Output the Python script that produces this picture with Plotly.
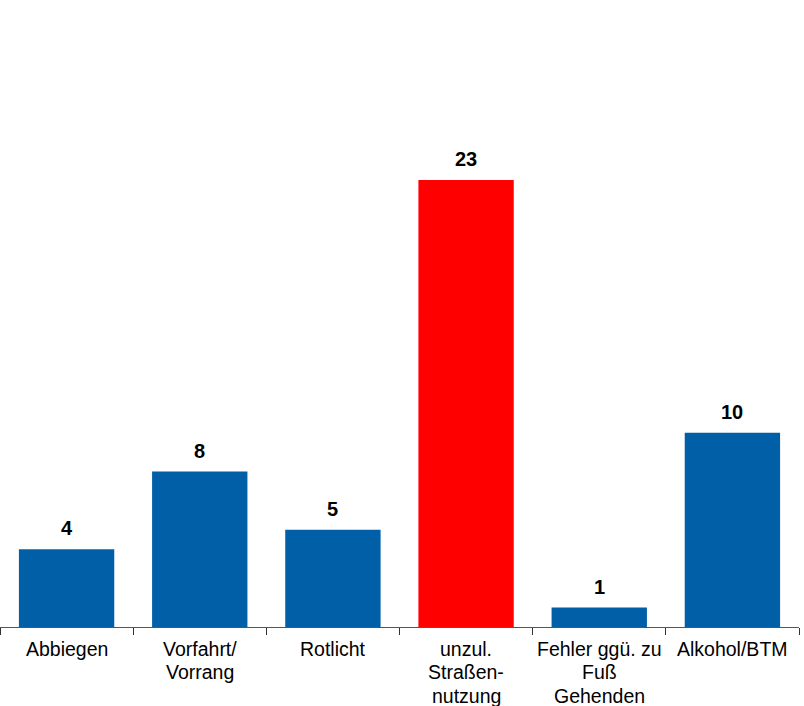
import plotly.graph_objects as go

categories = ["Abbiegen", "Vorfahrt/<br>Vorrang", "Rotlicht", "unzul.<br>Straßen-<br>nutzung",
              "Fehler ggü. zu<br>Fuß<br>Gehenden", "Alkohol/BTM"]
values = [4, 8, 5, 23, 1, 10]
bar_colors = ["#005FA7", "#005FA7", "#005FA7", "#FF0000", "#005FA7", "#005FA7"]

FONT = "Liberation Sans, Arial"

fig = go.Figure()
fig.add_trace(go.Bar(x=categories, y=values, marker=dict(color=bar_colors, line=dict(width=0)),
                     width=0.716, hoverinfo="skip"))

# value labels
for c, v in zip(categories, values):
    fig.add_annotation(x=c, y=v, text="<b>%d</b>" % v, showarrow=False, yanchor="bottom",
                       yshift=8, font=dict(family=FONT, size=20, color="#000000"))

# category labels, one annotation per line for tighter line spacing
for c in categories:
    for i, line in enumerate(c.split("<br>")):
        fig.add_annotation(x=c, y=0, text=line, showarrow=False, yanchor="middle",
                           yshift=-(22 + 23.4 * i), font=dict(family=FONT, size=19.5, color="#000000"))

fig.update_layout(
    width=804, height=706,
    margin=dict(l=0, r=5, t=44, b=79, pad=0),
    paper_bgcolor="white", plot_bgcolor="white",
    showlegend=False,
    bargap=0.284,
    font=dict(family=FONT, size=19.5, color="#000000"),
)
fig.update_xaxes(showline=True, linecolor="#555555", linewidth=1, ticks="outside",
                 tickson="boundaries", ticklen=7, tickcolor="#333333", tickwidth=1,
                 showticklabels=False, automargin=False,
                 showgrid=False, fixedrange=True)
fig.update_yaxes(range=[0, 30], visible=False, showgrid=False, zeroline=False,
                 automargin=False, fixedrange=True)

fig.write_html("out.html", config={"displayModeBar": False},
               post_script="document.body.style.margin='0';document.body.style.overflow='hidden';")
